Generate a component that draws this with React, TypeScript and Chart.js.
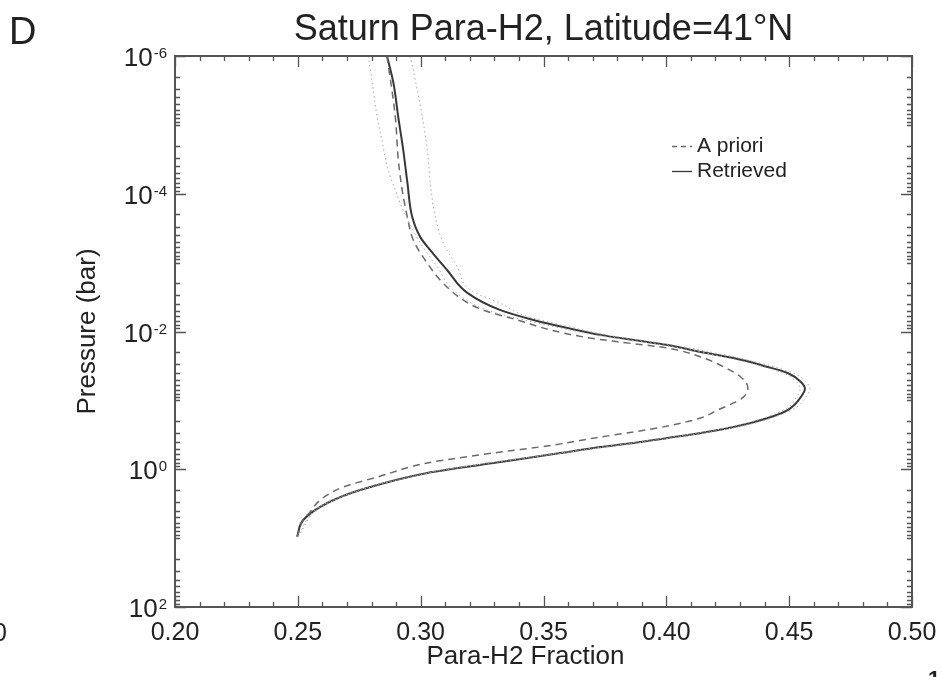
import React, { useEffect, useRef } from 'react';
import { Chart, registerables } from 'chart.js';

Chart.register(...registerables);

const FONT = '"Liberation Sans", Arial, Helvetica, sans-serif';

// Retrieved para-H2 profile (solid)
const retrievedPressure = [1.0e-6, 2.45e-6, 7.8e-6, 2.3e-5, 6.9e-5, 2.2e-4, 4.3e-4, 6.6e-4, 1.3e-3, 2.75e-3, 4.9e-3, 6.8e-3, 8.9e-3, 1.12e-2, 1.33e-2, 1.57e-2, 1.99e-2, 2.43e-2, 3.27e-2, 4.0e-2, 5.4e-2, 6.8e-2, 8.9e-2, 0.138, 0.18, 0.244, 0.298, 0.352, 0.416, 0.475, 0.581, 0.811, 1.13, 2.0, 3.09, 5.46, 9.6];
const retrievedFraction = [0.2863, 0.2889, 0.2909, 0.2929, 0.2946, 0.2966, 0.2999, 0.3039, 0.3109, 0.319, 0.3325, 0.3459, 0.3598, 0.3732, 0.3867, 0.4005, 0.414, 0.4274, 0.4413, 0.4494, 0.4548, 0.4564, 0.4548, 0.4494, 0.4413, 0.4274, 0.414, 0.4005, 0.3867, 0.3732, 0.3569, 0.3296, 0.3027, 0.2754, 0.262, 0.2522, 0.2497];

// A priori profile (dashed)
const aprioriPressure = [1.0e-6, 7.8e-6, 3.2e-5, 8.9e-5, 2.2e-4, 4.7e-4, 1.02e-3, 2.0e-3, 3.5e-3, 4.9e-3, 6.8e-3, 9.5e-3, 1.2e-2, 1.41e-2, 1.74e-2, 2.34e-2, 3.27e-2, 4.57e-2, 6.6e-2, 8.9e-2, 0.109, 0.138, 0.18, 0.236, 0.288, 0.34, 0.445, 0.581, 0.811, 1.3, 1.81, 2.8, 4.18, 5.46, 9.6];
const aprioriFraction = [0.2863, 0.2897, 0.2909, 0.2925, 0.2946, 0.297, 0.3027, 0.3092, 0.3174, 0.3255, 0.3394, 0.3529, 0.3663, 0.3802, 0.4005, 0.414, 0.4234, 0.4303, 0.4332, 0.4315, 0.4274, 0.4209, 0.414, 0.4005, 0.3867, 0.3732, 0.3541, 0.3296, 0.3027, 0.2823, 0.2685, 0.2591, 0.255, 0.2522, 0.2497];

// Error envelope (dotted)
const lowerPressure = [1.0e-6, 3.1e-6, 7.8e-6, 1.8e-5, 4.1e-5, 8.9e-5, 1.74e-4, 5.2e-4, 1.15e-3, 2.5e-3, 4.9e-3, 6.8e-3, 8.9e-3, 1.12e-2, 1.57e-2, 2.43e-2, 4.0e-2, 5.4e-2, 6.8e-2, 8.9e-2, 0.138, 0.244, 0.416, 0.581, 1.13, 3.09, 9.6];
const lowerFraction = [0.2787, 0.2807, 0.2823, 0.2844, 0.2864, 0.2897, 0.2929, 0.2999, 0.3068, 0.3133, 0.327, 0.342, 0.357, 0.371, 0.3985, 0.4255, 0.4475, 0.453, 0.4545, 0.453, 0.4478, 0.426, 0.3855, 0.356, 0.302, 0.2617, 0.2495];
const upperPressure = [1.0e-6, 3.1e-6, 7.8e-6, 2.3e-5, 6.9e-5, 2.2e-4, 5.2e-4, 1.15e-3, 2.5e-3, 3.9e-3, 5.8e-3, 8.9e-3, 1.12e-2, 1.57e-2, 2.43e-2, 4.0e-2, 5.4e-2, 6.8e-2, 8.9e-2, 0.138, 0.244, 0.416, 0.581, 1.13, 3.09, 9.6];
const upperFraction = [0.2958, 0.2986, 0.3007, 0.3027, 0.3039, 0.306, 0.3092, 0.3149, 0.3202, 0.3325, 0.342, 0.3625, 0.3755, 0.4025, 0.4295, 0.4515, 0.4568, 0.4585, 0.4568, 0.451, 0.4288, 0.3878, 0.3578, 0.3034, 0.2623, 0.2499];

// Axis ticks
const xTickLabels = ['0.20', '0.25', '0.30', '0.35', '0.40', '0.45', '0.50'];
const xMinorStepsPerMajor = 5;
const yTickExponents = [-6, -4, -2, 0, 2];
const legendLabels = ['A priori', 'Retrieved'];
const xAxisTitle = 'Para-H2 Fraction';

const TEXT = '#222';
const FRAME = '#555';

export default function App() {
  const ref = useRef<HTMLCanvasElement | null>(null);

  useEffect(() => {
    document.body.style.margin = '0';
    const canvas = ref.current;
    if (!canvas) return;

    const toPts = (xs: number[], ps: number[]) => xs.map((x, i) => ({ x, y: ps[i] }));

    const xMajors = xTickLabels.map(Number);
    const xTickValues: number[] = [];
    for (let i = 0; i < xMajors.length - 1; i++) {
      const step = (xMajors[i + 1] - xMajors[i]) / xMinorStepsPerMajor;
      for (let k = 0; k < xMinorStepsPerMajor; k++) xTickValues.push(xMajors[i] + k * step);
    }
    xTickValues.push(xMajors[xMajors.length - 1]);

    const yMin = Math.min(...yTickExponents);
    const yMax = Math.max(...yTickExponents);
    const yTickValues: { v: number; major: boolean }[] = [];
    for (let e = yMin; e <= yMax; e++) {
      for (let m = 1; m <= 9; m++) {
        if (e === yMax && m > 1) break;
        yTickValues.push({ v: m * Math.pow(10, e), major: m === 1 && yTickExponents.includes(e) });
      }
    }

    const idlPlugin = {
      id: 'idlFrame',
      afterDatasetsDraw(chart: any) {
        const { ctx, chartArea: a, scales } = chart;
        const xs = scales.x;
        const ys = scales.y;
        ctx.save();
        ctx.strokeStyle = FRAME;
        ctx.lineWidth = 1.3;
        ctx.setLineDash([]);
        ctx.beginPath();
        xTickValues.forEach((v, i) => {
          const px = Math.round(xs.getPixelForValue(v)) + 0.5;
          const len = i % xMinorStepsPerMajor === 0 ? 11 : 5;
          ctx.moveTo(px, a.bottom);
          ctx.lineTo(px, a.bottom - len);
          ctx.moveTo(px, a.top);
          ctx.lineTo(px, a.top + len);
        });
        yTickValues.forEach(({ v, major }) => {
          const py = Math.round(ys.getPixelForValue(v)) + 0.5;
          const len = major ? 11 : 5;
          ctx.moveTo(a.left, py);
          ctx.lineTo(a.left + len, py);
          ctx.moveTo(a.right, py);
          ctx.lineTo(a.right - len, py);
        });
        ctx.stroke();
        ctx.lineWidth = 2;
        ctx.strokeRect(a.left, a.top, a.right - a.left, a.bottom - a.top);

        // y tick labels with superscript exponents
        ctx.fillStyle = TEXT;
        ctx.textAlign = 'right';
        ctx.textBaseline = 'alphabetic';
        yTickExponents.forEach((e) => {
          const py = ys.getPixelForValue(Math.pow(10, e));
          const expText = String(e);
          ctx.font = `15px ${FONT}`;
          const expW = ctx.measureText(expText).width;
          const right = a.left - 8;
          ctx.fillText(expText, right, py + 2);
          ctx.font = `26px ${FONT}`;
          ctx.fillText('10', right - expW - 1, py + 10);
        });

        // x axis title
        ctx.font = `26px ${FONT}`;
        ctx.textAlign = 'center';
        ctx.textBaseline = 'middle';
        ctx.fillText(xAxisTitle, (a.left + a.right) / 2 - 18, 657);

        // legend
        const legendX = a.left + 497;
        const legendY = a.top + 90;
        legendLabels.forEach((label, i) => {
          const ds = chart.data.datasets.find((d: any) => d.label === label);
          if (!ds) return;
          const y = legendY + i * 25;
          ctx.save();
          ctx.strokeStyle = ds.borderColor;
          ctx.lineWidth = 1.3;
          ctx.setLineDash(ds.borderDash ? [5, 4] : []);
          ctx.beginPath();
          ctx.moveTo(legendX, y + 0.5);
          ctx.lineTo(legendX + 20, y + 0.5);
          ctx.stroke();
          ctx.restore();
          ctx.font = `21px ${FONT}`;
          ctx.textAlign = 'left';
          ctx.textBaseline = 'middle';
          ctx.fillStyle = TEXT;
          ctx.fillText(label, legendX + 25, y);
        });

        // panel letter and neighbouring panel fragments
        ctx.textBaseline = 'alphabetic';
        ctx.textAlign = 'left';
        ctx.font = `38px ${FONT}`;
        ctx.fillText('D', 9, 44);
        ctx.textAlign = 'right';
        ctx.font = `25px ${FONT}`;
        ctx.fillText('0', 7, 641);
        ctx.textAlign = 'left';
        ctx.font = `bold 22px ${FONT}`;
        ctx.fillText('1', 928, 686);
        ctx.restore();
      },
    };

    const chart = new Chart(canvas, {
      type: 'line',
      data: {
        datasets: [
          {
            label: 'Lower bound',
            data: toPts(lowerFraction, lowerPressure),
            borderColor: '#a8a8a8',
            borderWidth: 1,
            borderDash: [1.5, 3],
            pointRadius: 0,
            fill: false,
            cubicInterpolationMode: 'monotone',
          },
          {
            label: 'Upper bound',
            data: toPts(upperFraction, upperPressure),
            borderColor: '#a8a8a8',
            borderWidth: 1,
            borderDash: [1.5, 3],
            pointRadius: 0,
            fill: false,
            cubicInterpolationMode: 'monotone',
          },
          {
            label: 'A priori',
            data: toPts(aprioriFraction, aprioriPressure),
            borderColor: '#6a6a6a',
            borderWidth: 1.5,
            borderDash: [7, 5],
            pointRadius: 0,
            fill: false,
            cubicInterpolationMode: 'monotone',
          },
          {
            label: 'Retrieved',
            data: toPts(retrievedFraction, retrievedPressure),
            borderColor: '#383838',
            borderWidth: 2,
            pointRadius: 0,
            fill: false,
            cubicInterpolationMode: 'monotone',
          },
        ],
      } as any,
      options: {
        animation: false,
        responsive: false,
        indexAxis: 'y',
        events: [],
        layout: { padding: { top: 0, right: 30, bottom: 0, left: 0 } },
        plugins: {
          legend: { display: false },
          tooltip: { enabled: false },
          title: {
            display: true,
            text: 'Saturn Para-H2, Latitude=41°N',
            fullSize: false,
            color: TEXT,
            font: { family: FONT, size: 36, weight: 'normal' },
            padding: { top: 8.4, bottom: 4.4 },
          },
        },
        scales: {
          x: {
            type: 'linear',
            position: 'bottom',
            min: xMajors[0],
            max: xMajors[xMajors.length - 1],
            grid: { display: false, drawTicks: false },
            border: { display: false },
            ticks: {
              autoSkip: false,
              maxRotation: 0,
              minRotation: 0,
              padding: 11,
              color: TEXT,
              font: { family: FONT, size: 25 },
              callback: (v: any) => {
                const s = Number(v).toFixed(2);
                return xTickLabels.includes(s) ? s : '';
              },
            },
            afterBuildTicks: (s: any) => {
              s.ticks = xTickValues.map((v) => ({ value: v }));
            },
            afterFit: (s: any) => {
              s.height = 70;
              s.paddingLeft = 0;
              s.paddingRight = 0;
            },
            title: { display: false },
          },
          y: {
            type: 'logarithmic',
            position: 'left',
            reverse: true,
            min: Math.pow(10, yMin),
            max: Math.pow(10, yMax),
            grid: { display: false, drawTicks: false },
            border: { display: false },
            ticks: { display: false },
            afterBuildTicks: (s: any) => {
              s.ticks = yTickValues.map((t) => ({ value: t.v, major: t.major }));
            },
            afterFit: (s: any) => {
              s.width = 175;
              s.paddingTop = 0;
              s.paddingBottom = 0;
            },
            title: {
              display: true,
              text: 'Pressure (bar)',
              color: TEXT,
              font: { family: FONT, size: 26 },
              padding: { top: 72, bottom: 0 },
            },
          },
        },
      } as any,
      plugins: [idlPlugin],
    });

    return () => chart.destroy();
  }, []);

  return (
    <div style={{ width: 942, height: 677, background: '#fff' }}>
      <canvas ref={ref} width={942} height={677} style={{ display: 'block' }} />
    </div>
  );
}
